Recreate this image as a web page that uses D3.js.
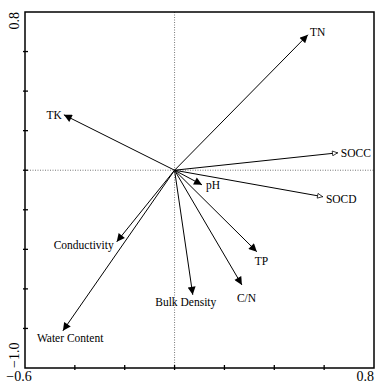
<!DOCTYPE html>
<html>
<head>
<meta charset="utf-8">
<script src="https://cdn.jsdelivr.net/npm/d3@7"></script>
<style>
  body { margin: 0; background: #fff; }
  text { font-family: "Liberation Serif", "DejaVu Serif", serif; }
</style>
</head>
<body>
<svg id="chart" width="375" height="383"></svg>
<script>
// variable loadings
const names = ["TN", "TK", "SOCC", "SOCD", "pH", "TP", "C/N", "Bulk Density", "Conductivity", "Water Content"];
const xs = [0.535, -0.444, 0.655, 0.595, 0.110, 0.330, 0.270, 0.073, -0.232, -0.448];
const ys = [0.685, 0.280, 0.088, -0.134, -0.074, -0.412, -0.580, -0.630, -0.362, -0.812];
const hollow = ["SOCC", "SOCD"];

const xDomain = [-0.6, 0.8];
const yDomain = [-1.0, 0.8];
const xTicks = d3.range(-0.6, 0.81, 0.2);
const yTicks = d3.range(-1.0, 0.81, 0.2);

// label placement relative to the arrow tip
const labelPos = {
  "TN": [2, 1, "start"],
  "TK": [-2, 4, "end"],
  "SOCC": [3, 4, "start"],
  "SOCD": [3, 6, "start"],
  "pH": [4, 4, "start"],
  "TP": [-2, 13, "start"],
  "C/N": [-5, 17, "start"],
  "Bulk Density": [-7, 11, "middle"],
  "Conductivity": [-3, 7, "end"],
  "Water Content": [-26, 11, "start"]
};

const mLeft = 25, mRight = 374, mTop = 12, mBottom = 368;

const svg = d3.select("#chart");
const x = d3.scaleLinear().domain(xDomain).range([mLeft, mRight]);
const y = d3.scaleLinear().domain(yDomain).range([mBottom, mTop]);

const data = names.map((n, i) => ({ name: n, x: xs[i], y: ys[i] }));

// arrow markers
const defs = svg.append("defs");
defs.append("marker")
  .attr("id", "head")
  .attr("viewBox", "0 0 10 10")
  .attr("refX", 10).attr("refY", 5)
  .attr("markerUnits", "userSpaceOnUse")
  .attr("markerWidth", 10).attr("markerHeight", 8)
  .attr("orient", "auto")
  .append("path")
  .attr("d", "M0,0 L10,5 L0,10 Z")
  .attr("fill", "#000");
defs.append("marker")
  .attr("id", "headOpen")
  .attr("viewBox", "0 0 10 10")
  .attr("refX", 10).attr("refY", 5)
  .attr("markerUnits", "userSpaceOnUse")
  .attr("markerWidth", 8).attr("markerHeight", 6)
  .attr("orient", "auto")
  .append("path")
  .attr("d", "M1,1 L9.5,5 L1,9 Z")
  .attr("fill", "#fff")
  .attr("stroke", "#000")
  .attr("stroke-width", 1.2);

// zero lines
svg.append("line")
  .attr("x1", x(0)).attr("x2", x(0))
  .attr("y1", mTop).attr("y2", mBottom)
  .attr("stroke", "#777").attr("stroke-width", 1)
  .attr("stroke-dasharray", "1,1.5");
svg.append("line")
  .attr("x1", mLeft).attr("x2", mRight)
  .attr("y1", y(0)).attr("y2", y(0))
  .attr("stroke", "#777").attr("stroke-width", 1)
  .attr("stroke-dasharray", "1,1.5");

// frame
svg.append("rect")
  .attr("x", mLeft).attr("y", mTop)
  .attr("width", mRight - mLeft).attr("height", mBottom - mTop)
  .attr("fill", "none").attr("stroke", "#000").attr("stroke-width", 1.5);

// ticks crossing the left and bottom axes
svg.selectAll(".ytick")
  .data(yTicks.slice(1, -1))
  .enter().append("line")
  .attr("x1", mLeft - 2).attr("x2", mLeft + 3)
  .attr("y1", d => y(d)).attr("y2", d => y(d))
  .attr("stroke", "#000").attr("stroke-width", 1.3);
svg.selectAll(".xtick")
  .data(xTicks.slice(1, -1))
  .enter().append("line")
  .attr("y1", mBottom - 3).attr("y2", mBottom + 2)
  .attr("x1", d => x(d)).attr("x2", d => x(d))
  .attr("stroke", "#000").attr("stroke-width", 1.3);

// end labels
svg.append("text")
  .attr("x", x(xDomain[0]) - 6).attr("y", 381)
  .attr("text-anchor", "middle").attr("font-size", 14)
  .text(d3.format(".1f")(xDomain[0]));
svg.append("text")
  .attr("x", x(xDomain[1])).attr("y", 381)
  .attr("text-anchor", "end").attr("font-size", 14)
  .text(d3.format(".1f")(xDomain[1]));
svg.append("text")
  .attr("transform", `translate(19,${y(yDomain[1])}) rotate(-90)`)
  .attr("text-anchor", "end").attr("font-size", 14)
  .text(d3.format(".1f")(yDomain[1]));
svg.append("text")
  .attr("transform", `translate(19,${y(yDomain[0])}) rotate(-90)`)
  .attr("text-anchor", "start").attr("font-size", 14)
  .text(d3.format(".1f")(yDomain[0]));

// arrows
svg.selectAll(".arrow")
  .data(data)
  .enter().append("line")
  .attr("class", "arrow")
  .attr("x1", x(0)).attr("y1", y(0))
  .attr("x2", d => x(d.x)).attr("y2", d => y(d.y))
  .attr("stroke", "#000").attr("stroke-width", 1)
  .attr("marker-end", d => hollow.includes(d.name) ? "url(#headOpen)" : "url(#head)");

svg.selectAll(".lab")
  .data(data)
  .enter().append("text")
  .attr("class", "lab")
  .attr("x", d => x(d.x) + labelPos[d.name][0])
  .attr("y", d => y(d.y) + labelPos[d.name][1])
  .attr("text-anchor", d => labelPos[d.name][2])
  .attr("font-size", 11.5)
  .text(d => d.name);
</script>
</body>
</html>
